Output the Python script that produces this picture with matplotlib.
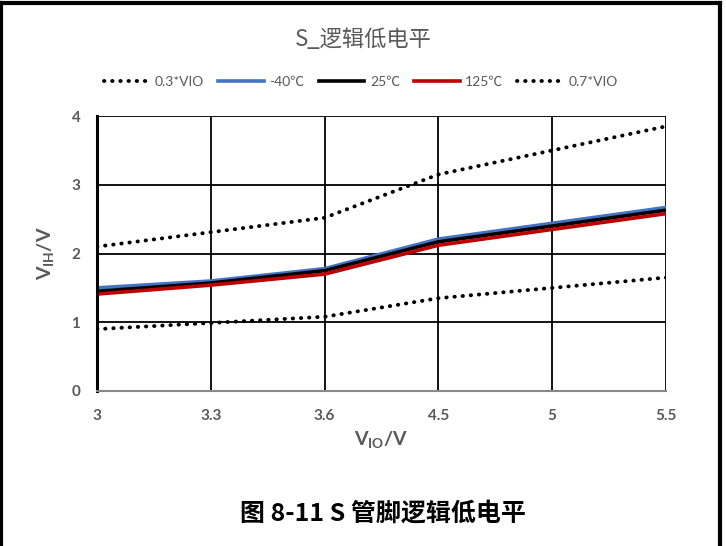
import matplotlib.pyplot as plt
from matplotlib.lines import Line2D

plt.rcParams["font.family"] = ["Lato", "Noto Sans CJK SC", "DejaVu Sans"]

vio_labels = ["3", "3.3", "3.6", "4.5", "5", "5.5"]
low_ref = [0.90, 0.99, 1.08, 1.35, 1.50, 1.65]
high_ref = [2.10, 2.31, 2.52, 3.15, 3.50, 3.85]
vih_m40 = [1.50, 1.60, 1.78, 2.21, 2.44, 2.67]
vih_25 = [1.45, 1.57, 1.75, 2.17, 2.40, 2.63]
vih_125 = [1.41, 1.54, 1.70, 2.12, 2.35, 2.58]

grey = "#595959"

fig = plt.figure(figsize=(7.26, 5.46), dpi=100)
ax = fig.add_axes([0.1336, 0.2839, 0.9174 - 0.1336, 0.7875 - 0.2839])

x = range(len(vio_labels))
dot = dict(color="black", lw=2.8, linestyle=(0, (0.1, 2.0)), dash_capstyle="round")
ax.plot(x, low_ref, **dot, label="0.3*VIO")
ax.plot(x, vih_m40, color="#4472C4", lw=2.6, label="-40℃")
ax.plot(x, vih_25, color="black", lw=2.6, label="25℃")
ax.plot(x, vih_125, color="#C00000", lw=2.6, label="125℃")
ax.plot(x, high_ref, **dot, label="0.7*VIO")

ax.set_xlim(0, len(vio_labels) - 1)
ax.set_ylim(0, 4)
ax.set_xticks(list(x))
ax.set_xticklabels(vio_labels)
ax.set_yticks([0, 1, 2, 3, 4])
ax.grid(True, color="black", lw=1.3)
ax.set_axisbelow(True)
ax.tick_params(length=0, labelsize=11, labelcolor=grey)
ax.tick_params(axis="x", pad=13)
ax.tick_params(axis="y", pad=12)
for lab in ax.get_xticklabels() + ax.get_yticklabels():
    lab.set_fontweight("bold")
for side in ["top", "right"]:
    ax.spines[side].set_visible(False)
ax.spines["left"].set_linewidth(2.2)
ax.spines["bottom"].set_color("#888888")
ax.spines["bottom"].set_linewidth(1.5)

ax.set_xlabel("V$_\\mathregular{IO}$/V", fontsize=14, color=grey, fontweight="bold", labelpad=5)
ax.set_ylabel("V$_\\mathregular{IH}$/V", fontsize=14, color=grey, fontweight="bold", labelpad=10)

fig.text(0.5, 0.927, "S_逻辑低电平", ha="center", va="center", fontsize=16, color=grey,
         family=["Noto Sans CJK SC", "DejaVu Sans"])
fig.legend(loc="center", bbox_to_anchor=(0.497, 0.85), ncol=5, frameon=False,
           fontsize=10, labelcolor=grey, handlelength=3.3, columnspacing=1.0, handletextpad=0.4)

fig.text(0.527, 0.06, "图 8-11 S 管脚逻辑低电平", ha="center", va="center", fontsize=18,
         fontweight="bold", color="black", family=["Noto Sans CJK SC", "DejaVu Sans"])

# outer frame
for xs, ys in [([0.0, 0.992], [0.995, 0.995]), ([0.002, 0.002], [0, 0.995]), ([0.992, 0.992], [0, 0.995])]:
    fig.add_artist(Line2D(xs, ys, color="black", lw=3, transform=fig.transFigure))

fig.savefig("out.png", dpi=100)
plt.close()
